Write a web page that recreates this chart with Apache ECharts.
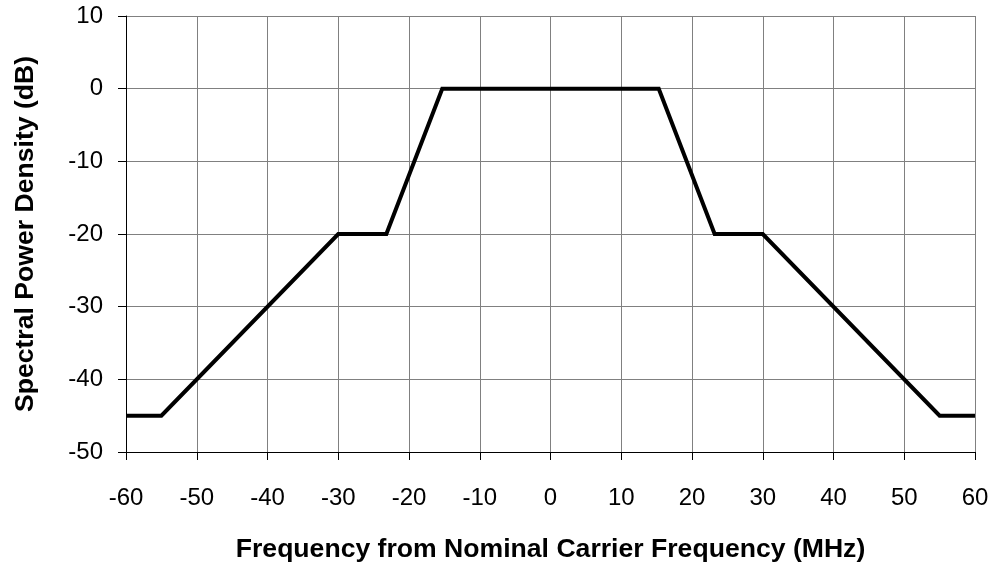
<!DOCTYPE html>
<html>
<head>
<meta charset="utf-8">
<script src="https://cdn.jsdelivr.net/npm/echarts@6/dist/echarts.min.js"></script>
<style>html,body{margin:0;padding:0;background:#fff}#c{width:997px;height:573px}</style>
</head>
<body>
<div id="c"></div>
<script>
const freqMHz = [-60, -55, -30, -23.2, -15.3, 15.3, 23.2, 30, 55, 60];
const psdDb = [-45, -45, -20, -20, 0, 0, -20, -20, -45, -45];
const xTitle = 'Frequency from Nominal Carrier Frequency (MHz)';
const yTitle = 'Spectral Power Density (dB)';

const chart = echarts.init(document.getElementById('c'), null, {renderer: 'canvas'});
const font = 'Liberation Sans, Arial, sans-serif';
chart.setOption({
  animation: false,
  grid: {left: 126, right: 22, top: 16, bottom: 121, containLabel: false},
  xAxis: {
    type: 'value', min: -60, max: 60, interval: 10,
    name: xTitle, nameLocation: 'middle', nameGap: 84,
    nameTextStyle: {fontFamily: font, fontSize: 26.6, fontWeight: 'bold', color: '#000'},
    axisLine: {show: true, onZero: false, lineStyle: {color: '#000', width: 1}},
    axisTick: {show: true, length: 8, inside: false, lineStyle: {color: '#000'}},
    axisLabel: {fontFamily: font, fontSize: 24, color: '#000', margin: 34},
    splitLine: {show: true, lineStyle: {color: '#808080', width: 1}}
  },
  yAxis: {
    type: 'value', min: -50, max: 10, interval: 10,
    name: yTitle, nameLocation: 'middle', nameGap: 87, nameRotate: 90,
    nameTextStyle: {fontFamily: font, fontSize: 26.6, fontWeight: 'bold', color: '#000'},
    axisLine: {show: true, onZero: false, lineStyle: {color: '#000', width: 1}},
    axisTick: {show: true, length: 8, inside: false, lineStyle: {color: '#000'}},
    axisLabel: {fontFamily: font, fontSize: 24, color: '#000', margin: 23},
    splitLine: {show: true, lineStyle: {color: '#808080', width: 1}}
  },
  series: [{
    type: 'line',
    data: freqMHz.map((x, i) => [x, psdDb[i]]),
    showSymbol: false,
    symbol: 'none',
    lineStyle: {color: '#000', width: 4, join: 'miter'},
    silent: true
  }]
});
</script>
</body>
</html>
